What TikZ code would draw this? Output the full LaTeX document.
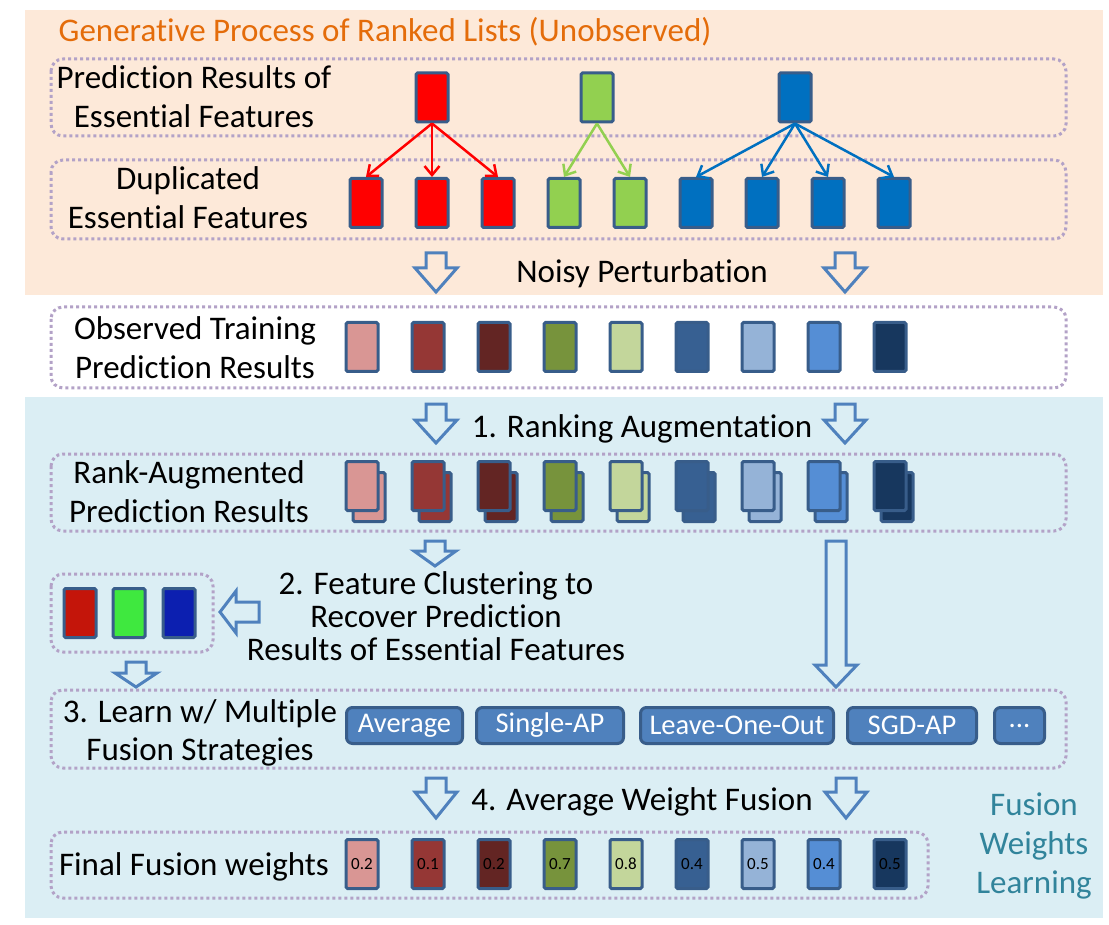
\documentclass[tikz,border=0pt]{standalone}
\usepackage{fontspec}
\setmainfont{Carlito}[RawFeature={-liga;-clig;-calt;-dlig}]
\usetikzlibrary{arrows.meta}
\definecolor{bgorange}{HTML}{FDE9D9}
\definecolor{bgblue}{HTML}{DBEEF4}
\definecolor{dotc}{HTML}{B3A2C7}
\definecolor{bordc}{HTML}{385D8A}
\definecolor{arrc}{HTML}{4F81BD}
\definecolor{redc}{HTML}{FF0000}
\definecolor{greenc}{HTML}{92D050}
\definecolor{bluec}{HTML}{0070C0}
\definecolor{titlec}{HTML}{E46C0A}
\definecolor{tealc}{HTML}{31849B}
\definecolor{cpink}{HTML}{D99694}
\definecolor{cdred}{HTML}{953735}
\definecolor{cdark}{HTML}{632523}
\definecolor{colive}{HTML}{77933C}
\definecolor{clgreen}{HTML}{C3D69B}
\definecolor{csteel}{HTML}{376092}
\definecolor{clblue}{HTML}{95B3D7}
\definecolor{cblue}{HTML}{558ED5}
\definecolor{cnavy}{HTML}{17375E}
\definecolor{kred}{HTML}{C4150A}
\definecolor{kgreen}{HTML}{3FE83F}
\definecolor{kblue}{HTML}{0C1FB0}
\newcommand\bigsz{\fontsize{33}{39}\selectfont}
\newcommand\btnsz{\fontsize{28.5}{32}\selectfont}
\newcommand\numsz{\fontsize{17}{19}\selectfont}
\newcommand\blkdown[4]{\draw[barrow] ({#1-10},#2) -- ({#1+10},#2) -- ({#1+10},{#3-#4}) -- ({#1+21},{#3-#4}) -- (#1,#3) -- ({#1-21},{#3-#4}) -- ({#1-10},{#3-#4}) -- cycle;}
\begin{document}
\begin{tikzpicture}[x=1pt,y=-1pt,
  dotbox/.style={draw=dotc, line width=3pt, dash pattern=on 3pt off 3pt, rounded corners=12pt},
  feat/.style={draw=bordc, line width=3pt, minimum width=32pt, minimum height=49pt, inner sep=0pt, rounded corners=1.5pt},
  lbl/.style={font=\bigsz, align=center, inner sep=0pt, anchor=base},
  barrow/.style={draw=arrc, line width=3pt, line join=miter},
  genarr/.style={line width=2.5pt, -{Straight Barb[length=9pt,width=15pt]}},
  btn/.style={draw=bordc, fill=arrc, line width=3pt, rounded corners=6pt, text=white, font=\btnsz, minimum height=36pt, inner sep=0pt}
]
\useasboundingbox (0,0) rectangle (1109,925);
% backgrounds
\fill[bgorange] (25,10) rectangle (1103,295);
\fill[bgblue] (25,397) rectangle (1103,918);
% title
\node[lbl, text=titlec] (title) at (385,42) {Generative Process of Ranked Lists (Unobserved)};
% dotted frames
\draw[dotbox] (51,59) rectangle (1066,136);
\draw[dotbox] (51,160) rectangle (1066,239);
\draw[dotbox] (51,307) rectangle (1066,388);
\draw[dotbox] (51,454) rectangle (1066,531);
\draw[dotbox] (51,574) rectangle (213,652);
\draw[dotbox] (51,690) rectangle (1066,768);
\draw[dotbox] (51,832) rectangle (928,898);
% row labels (anchored at the baseline of the last line)
\node[lbl] (l1) at (194,128) {Prediction Results of\\Essential Features};
\node[lbl] (l2) at (188,229) {Duplicated\\Essential Features};
\node[lbl] (l3) at (195,378) {Observed Training\\Prediction Results};
\node[lbl] (l4) at (189,522) {Rank-Augmented\\Prediction Results};
\node[lbl, font=\fontsize{33}{33}\selectfont] (l5) at (436,660) {2. Feature Clustering to\\Recover Prediction\\Results of Essential Features};
\node[lbl, font=\fontsize{33}{38}\selectfont] (l6) at (200,760) {3. Learn w/ Multiple\\Fusion Strategies};
\node[lbl] (l7) at (194,875) {Final Fusion weights};
\node[lbl, text=tealc] (l8) at (1034,893) {Fusion\\Weights\\Learning};
\node[lbl] (s0) at (642,283) {Noisy Perturbation};
\node[lbl] (s1) at (642,437) {1. Ranking Augmentation};
\node[lbl] (s4) at (642,810) {4. Average Weight Fusion};
% top row
\node[feat, fill=redc] (t1) at (432,97.5) {};
\node[feat, fill=greenc] (t2) at (597,97.5) {};
\node[feat, fill=bluec] (t3) at (795,97.5) {};
% duplicated row
\foreach \i/\c in {1/redc,2/redc,3/redc,4/greenc,5/greenc,6/bluec,7/bluec,8/bluec,9/bluec}
  \node[feat, fill=\c] (d\i) at ({366+66*(\i-1)},203) {};
\foreach \i in {1,2,3} \draw[genarr, redc] (t1.south) -- (d\i.north);
\foreach \i in {4,5} \draw[genarr, greenc] (t2.south) -- (d\i.north);
\foreach \i in {6,7,8,9} \draw[genarr, bluec] (t3.south) -- (d\i.north);
% observed row
\foreach \i/\c in {1/cpink,2/cdred,3/cdark,4/colive,5/clgreen,6/csteel,7/clblue,8/cblue,9/cnavy}
  \node[feat, fill=\c] (o\i) at ({362+66*(\i-1)},347) {};
% rank-augmented row
\foreach \i/\c in {1/cpink,2/cdred,3/cdark,4/colive,5/clgreen,6/csteel,7/clblue,8/cblue,9/cnavy}{
  \node[feat, fill=\c] (rb\i) at ({369+66*(\i-1)},497) {};
  \node[feat, fill=\c] (r\i) at ({362+66*(\i-1)},486) {};
}
% clustered
\node[feat, fill=kred] (c1) at (80,613) {};
\node[feat, fill=kgreen] (c2) at (129,613) {};
\node[feat, fill=kblue] (c3) at (179,613) {};
% buttons
\node[btn, minimum width=116pt] (b1) at (404.5,725.5) {Average};
\node[btn, minimum width=147pt] (b2) at (550,725.5) {Single-AP};
\node[btn, minimum width=193pt] (b3) at (737,725.5) {Leave-One-Out};
\node[btn, minimum width=129pt] (b4) at (912,725.5) {SGD-AP};
\node[btn, minimum width=50pt] (b5) at (1019.5,725.5) {...};
% final weights
\foreach \i/\c/\v in {1/cpink/0.2,2/cdred/0.1,3/cdark/0.2,4/colive/0.7,5/clgreen/0.8,6/csteel/0.4,7/clblue/0.5,8/cblue/0.4,9/cnavy/0.5}
  \node[feat, fill=\c, font=\numsz] (f\i) at ({362+66*(\i-1)},864) {\v};
% block arrows
\blkdown{436}{253}{292}{24}
\blkdown{845}{253}{292}{24}
\blkdown{436}{404}{443}{23}
\blkdown{845}{404}{443}{23}
\blkdown{435}{541}{566}{15}
\blkdown{836}{541}{687}{22}
\blkdown{136}{662}{687}{14}
\blkdown{436}{778}{818}{26}
\blkdown{846}{778}{818}{26}
\draw[barrow] (259,602) -- (236,602) -- (236,591) -- (220,612) -- (236,633) -- (236,622) -- (259,622) -- cycle;
\end{tikzpicture}
\end{document}
